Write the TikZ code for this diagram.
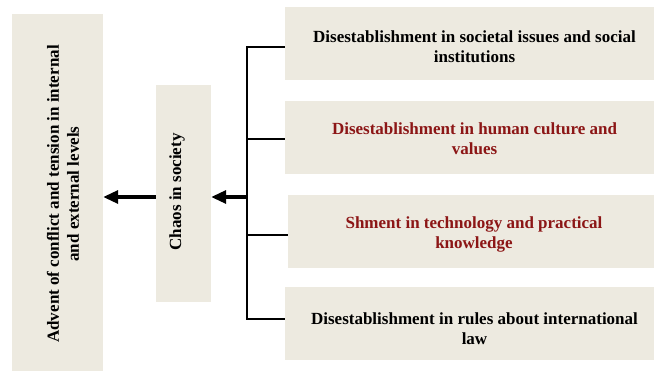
\documentclass[tikz,border=0pt]{standalone}
\usepackage{fontspec}
\setmainfont{Liberation Serif}
\usetikzlibrary{arrows.meta}
\definecolor{boxfill}{RGB}{237,234,224}
\definecolor{darkred}{RGB}{140,22,22}
\tikzset{
  txt/.style={font=\bfseries\fontsize{17}{20}\selectfont, align=center, inner sep=0pt},
  box/.style={fill=boxfill, draw=none, inner sep=0pt},
  conn/.style={line width=1.2pt},
  bigarrow/.style={line width=3.2pt, -{Triangle[length=15pt,width=13pt]}}
}
\begin{document}
\begin{tikzpicture}[x=1pt,y=-1pt]
\useasboundingbox (0,0) rectangle (654,373);
% left box
\node[box, minimum width=91pt, minimum height=357pt] (adv) at (57.5,192.5) {};
\node[txt, rotate=90] (advt) at (63,194) {Advent of conflict and tension in internal\\and external levels};
% chaos
\node[box, minimum width=55pt, minimum height=217pt] (chaos) at (183.5,193.5) {};
\node[txt, rotate=90] (chaost) at (177,192) {Chaos in society};
% right boxes
\node[box, minimum width=369pt, minimum height=73pt] (b1) at (469.5,43.5) {};
\node[box, minimum width=369pt, minimum height=73pt] (b2) at (469.5,137.5) {};
\node[box, minimum width=366pt, minimum height=73pt] (b3) at (471,231.5) {};
\node[box, minimum width=369pt, minimum height=73pt] (b4) at (469.5,323.5) {};
\node[txt] (t1) at ([xshift=5pt,yshift=-3.5pt]b1.center) {Disestablishment in societal issues and social\\institutions};
\node[txt, text=darkred] (t2) at ([xshift=5pt,yshift=-1pt]b2.center) {Disestablishment in human culture and\\values};
\node[txt, text=darkred] (t3) at ([xshift=3pt,yshift=-3pt]b3.center) {Shment in technology and practical\\knowledge};
\node[txt] (t4) at ([xshift=5pt,yshift=-5pt]b4.center) {Disestablishment in rules about international\\law};
% bracket
\coordinate (t) at (247,47);
\coordinate (bt) at (247,319);
\coordinate (m) at (247,197);
\draw[conn] (b1.west |- t) -- (t) -- (bt) -- (b4.west |- bt);
\draw[conn] (247,139) -- (b2.west |- 0,139);
\draw[conn] (247,235) -- (b3.west |- 0,235);
% arrows
\draw[bigarrow] (m) -- (chaos.east |- m);
\draw[bigarrow] (chaos.west |- m) -- (adv.east |- m);
\end{tikzpicture}
\end{document}
